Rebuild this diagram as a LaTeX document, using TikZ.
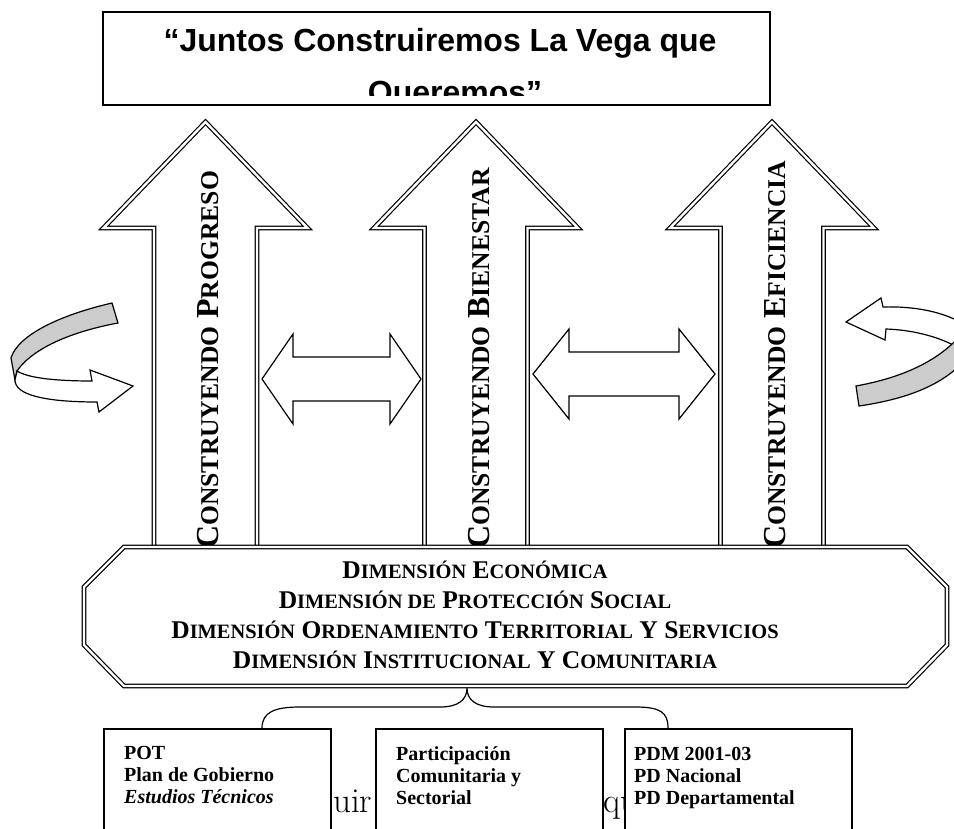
\documentclass[tikz,border=0pt]{standalone}
\usepackage{fontspec}
\usepackage{tikz}
\newfontfamily\arialfont{Liberation Sans}
\newfontfamily\timesfont{Liberation Serif}
\definecolor{bandgray}{RGB}{204,204,204}
\makeatletter
\newcommand\lowcap[1]{{\fontsize{\fpeval{0.8*\f@size}}{\f@baselineskip}\selectfont #1}}
\makeatother

\begin{document}
\begin{tikzpicture}[x=1pt,y=-1pt,
  dbl/.style={double=white,double distance=2.4pt,line width=1.2pt},
  flat/.style={line width=1.2pt},
  titletext/.style={anchor=base,inner sep=0pt,font=\arialfont\bfseries\fontsize{32}{32}\selectfont},
  vtext/.style={rotate=90,anchor=base west,inner sep=0pt,font=\timesfont\bfseries\fontsize{32}{32}\selectfont},
  dimtext/.style={anchor=base,inner sep=0pt,font=\timesfont\bfseries\fontsize{25.5}{30}\selectfont},
  source/.style={draw,line width=1.5pt,fill=white,anchor=north west,minimum width=227pt,minimum height=130pt},
  boxtext/.style={anchor=base west,inner sep=0pt,font=\timesfont\bfseries\fontsize{20}{22}\selectfont},
  hidden/.style={anchor=base west,inner sep=0pt,font=\fontsize{35}{35}\selectfont}]
\useasboundingbox (0,0) rectangle (954,829);
\clip (0,0) rectangle (954,829);

% title
\node[draw,line width=1.6pt,minimum width=667pt,minimum height=93pt,inner sep=0pt] (titlebox) at (436.5,58.5) {};
\begin{scope}
\clip (105,14) rectangle (768,96);
\node[titletext] (line1) at (440,52) {“Juntos Construiremos La Vega que};
\node[titletext] (line2) at (455,104) {Queremos”};
\end{scope}

% the three big arrows
\foreach \c in {205.5,476,772} {\draw[dbl,fill=white] (\c-51.5,560) -- (\c-51.5,228) -- (\c-102,228) -- (\c,122) -- (\c+102,228) -- (\c+51.5,228) -- (\c+51.5,560);}

% double arrows between them
\foreach \l/\r/\m/\h in {262/421/379/31,533/715/374/36} {\draw[flat,fill=white] (\l,\m) -- (\l+\h,\m-45) -- (\l+\h,\m-22) -- (\r-\h,\m-22) -- (\r-\h,\m-45) -- (\r,\m) -- (\r-\h,\m+45) -- (\r-\h,\m+22) -- (\l+\h,\m+22) -- (\l+\h,\m+45) -- cycle;}

% curved arrows
\draw[flat,fill=bandgray] (112,303) -- (118,323) .. controls (80,330) and (35,345) .. (17,371) -- (15,380) -- (11,358) .. controls (18,335) and (60,315) .. (112,303) -- cycle;
\draw[flat,fill=white] (17,371) .. controls (28,378) and (55,381) .. (92,381) -- (90,370) -- (133,386) -- (99,412) -- (97,402) .. controls (45,402) and (15,395) .. (15,380) -- cycle;
\draw[flat,fill=white] (846,322) -- (881,298) -- (883,307) .. controls (915,306) and (945,312) .. (965,325) -- (965,352) .. controls (945,338) and (915,330) .. (886,329) -- (885,340) -- cycle;
\draw[flat,fill=bandgray] (856,386) -- (859,406) .. controls (900,400) and (940,388) .. (965,360) -- (965,330) .. controls (940,362) and (900,378) .. (856,386) -- cycle;

% texts in the arrows
\node[vtext] (prog) at (218,549) {C\lowcap{ONSTRUYENDO} P\lowcap{ROGRESO}};
\node[vtext] (bien) at (489,549) {C\lowcap{ONSTRUYENDO} B\lowcap{IENESTAR}};
\node[vtext] (efic) at (785,549) {C\lowcap{ONSTRUYENDO} E\lowcap{FICIENCIA}};

% dimensions
\draw[dbl,fill=white] (124,547) -- (907,547) -- (947,587) -- (947,645) -- (907,686) -- (124,686) -- (84,645) -- (84,587) -- cycle;
\foreach \txt [count=\i] in {{D\lowcap{IMENSIÓN} E\lowcap{CONÓMICA}},
  {D\lowcap{IMENSIÓN DE} P\lowcap{ROTECCIÓN} S\lowcap{OCIAL}},
  {D\lowcap{IMENSIÓN} O\lowcap{RDENAMIENTO} T\lowcap{ERRITORIAL} Y S\lowcap{ERVICIOS}},
  {D\lowcap{IMENSIÓN} I\lowcap{NSTITUCIONAL} Y C\lowcap{OMUNITARIA}}}
  {\node[dimtext] (dim\i) at (475,548+30*\i) {\txt};}

% brace down to the sources
\coordinate (tip) at (467,688);
\coordinate (bl) at (262,728);
\coordinate (br) at (668,728);
\draw[flat] (bl) .. controls (262,712) and (275,707) .. (300,707) -- (440,707) .. controls (458,707) and (467,700) .. (tip) .. controls (467,700) and (476,707) .. (494,707) -- (635,707) .. controls (660,707) and (668,712) .. (br);

% text left behind the boxes
\node[hidden] (frag1) at (333,812) {uir};
\node[hidden] (frag2) at (603,812) {qu};

% sources
\node[source] (pot) at (103,728) {};
\node[source] (part) at (375,728) {};
\node[source] (pdm) at (624,728) {};
\node[boxtext] (pot1) at (124,759) {POT};
\node[boxtext] (pot2) at (124,781) {Plan de Gobierno};
\node[boxtext] (pot3) at (124,803) {\itshape Estudios Técnicos};
\node[boxtext] (part1) at (396,760) {Participación};
\node[boxtext] (part2) at (396,782) {Comunitaria y};
\node[boxtext] (part3) at (396,804) {Sectorial};
\node[boxtext] (pdm1) at (634,760) {PDM 2001-03};
\node[boxtext] (pdm2) at (634,782) {PD Nacional};
\node[boxtext] (pdm3) at (634,804) {PD Departamental};
\end{tikzpicture}
\end{document}
